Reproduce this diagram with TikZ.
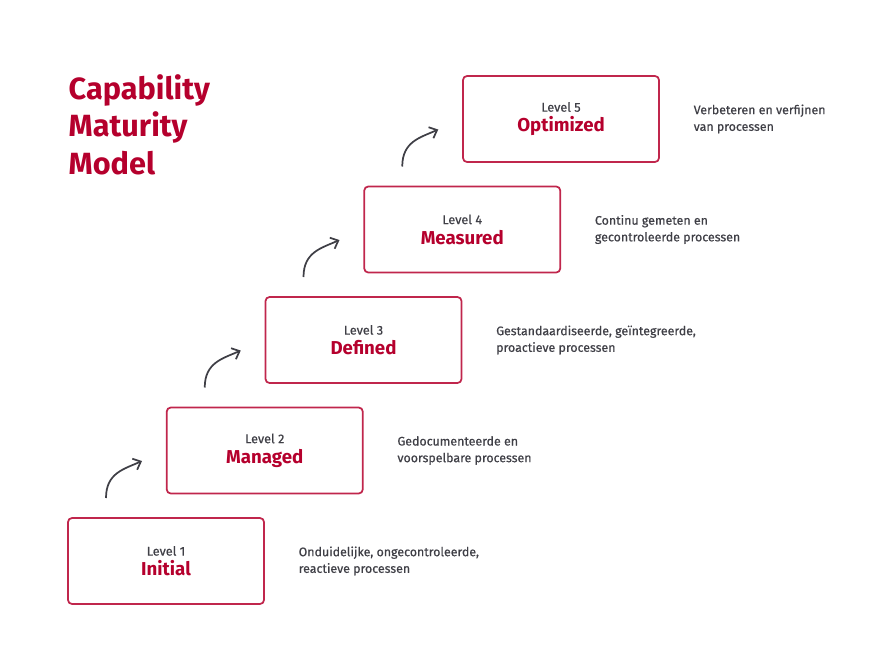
\documentclass[tikz,border=0pt]{standalone}
\usepackage{fontspec}
\setmainfont{Fira Sans}
\newfontfamily\descfont{Fira Sans}[FakeBold=0.6]
\usetikzlibrary{arrows.meta,calc}
\definecolor{cmmred}{HTML}{B5002D}
\definecolor{cmmgray}{HTML}{3F3F46}
\begin{document}
\begin{tikzpicture}[x=0.75pt,y=-0.75pt,
  lvl/.style={draw=cmmred!85, line width=1.3pt, rounded corners=3pt, minimum width=147pt, minimum height=64.5pt, inner sep=0pt, align=center},
  desc/.style={anchor=west, align=left, text=cmmgray, font=\descfont\fontsize{9.3}{12.5}\selectfont},
  arr/.style={draw=cmmgray, line width=1.3pt, -{Straight Barb[length=5pt,width=9pt]}}]
\useasboundingbox (0,0) rectangle (895,671);
\node[anchor=north west, align=left, text=cmmred, font=\fontsize{23}{28}\selectfont\bfseries] (title) at (64,70) {Capability\\Maturity\\Model};
\foreach \i/\name/\d in {0/Initial/{Onduidelijke, ongecontroleerde,\\reactieve processen},
  1/Managed/{Gedocumenteerde en\\voorspelbare processen},
  2/Defined/{Gestandaardiseerde, geïntegreerde,\\proactieve processen},
  3/Measured/{Continu gemeten en\\gecontroleerde processen},
  4/Optimized/{Verbeteren en verfijnen\\van processen}}{
  \pgfmathsetmacro{\cx}{166+98.75*\i}
  \pgfmathsetmacro{\cy}{561-110.5*\i}
  \pgfmathtruncatemacro{\n}{\i+1}
  \node[lvl] (b\n) at (\cx,\cy) {{\descfont\fontsize{9.5}{11}\selectfont\color{cmmgray}Level \n}\\[3pt]{\fontsize{14}{17}\selectfont\bfseries\color{cmmred}\name}};
  \node[desc] (d\n) at (\cx+128,\cy) {\d};
}
\foreach \i in {1,...,4}{
  \pgfmathsetmacro{\sx}{106+98.75*(\i-1)}
  \pgfmathsetmacro{\sy}{498-110.5*(\i-1)}
  \coordinate (s\i) at (\sx,\sy);
  \coordinate (e\i) at (\sx+36,\sy-37);
  \draw[arr] (s\i) .. controls ($(s\i)+(0,-25)$) and ($(e\i)+(-18,8)$) .. (e\i);
}
\end{tikzpicture}
\end{document}
